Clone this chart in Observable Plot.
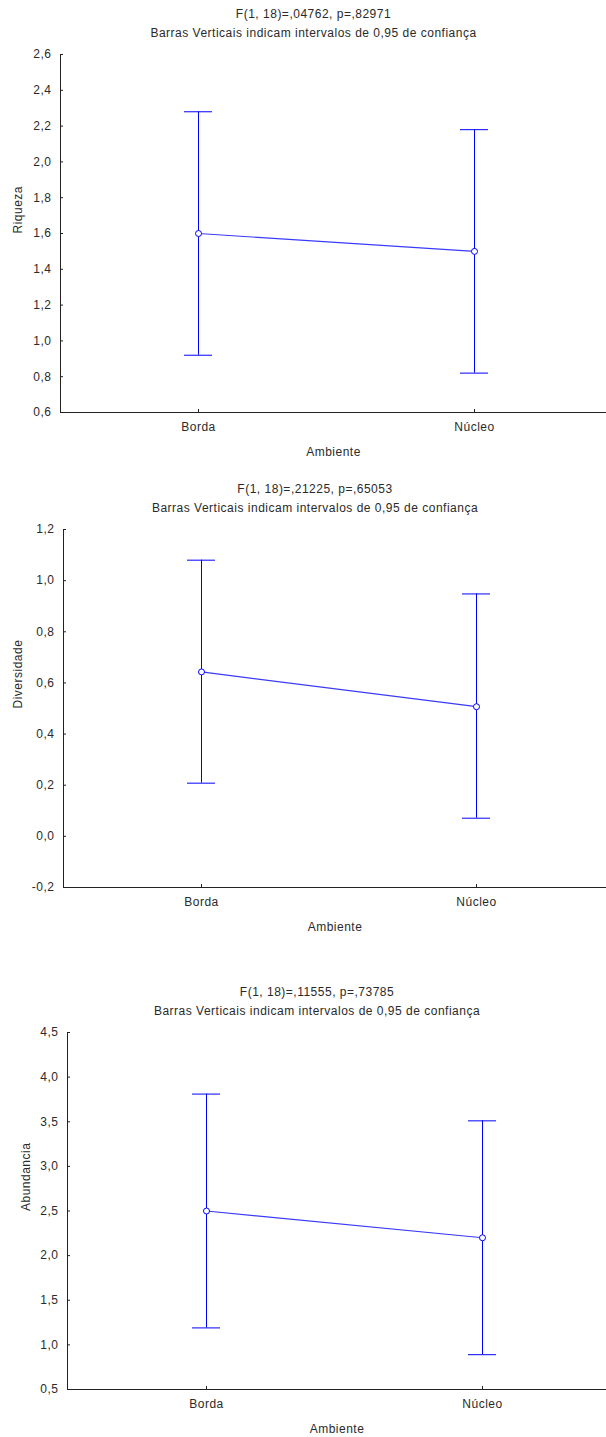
<!DOCTYPE html>
<html>
<head>
<meta charset="utf-8">
<script src="https://cdn.jsdelivr.net/npm/d3@7"></script>
<script src="https://cdn.jsdelivr.net/npm/@observablehq/plot@0.6"></script>
<style>
  html, body { margin: 0; padding: 0; background: #fff; }
  #charts svg { display: block; }
</style>
</head>
<body>
<div id="charts"></div>
<script>
// ---- Data ----
const categories = ["Borda", "Núcleo"];

const riquezaTitle = "F(1, 18)=,04762, p=,82971";
const riquezaMean = [1.60, 1.50];
const riquezaLow  = [0.92, 0.82];
const riquezaHigh = [2.28, 2.18];
const riquezaTicks = [0.6, 0.8, 1.0, 1.2, 1.4, 1.6, 1.8, 2.0, 2.2, 2.4, 2.6];

const diversidadeTitle = "F(1, 18)=,21225, p=,65053";
const diversidadeMean = [0.643, 0.507];
const diversidadeLow  = [0.208, 0.071];
const diversidadeHigh = [1.080, 0.948];
const diversidadeTicks = [-0.2, 0.0, 0.2, 0.4, 0.6, 0.8, 1.0, 1.2];

const abundanciaTitle = "F(1, 18)=,11555, p=,73785";
const abundanciaMean = [2.50, 2.20];
const abundanciaLow  = [1.19, 0.89];
const abundanciaHigh = [3.81, 3.51];
const abundanciaTicks = [0.5, 1.0, 1.5, 2.0, 2.5, 3.0, 3.5, 4.0, 4.5];

const subtitle = "Barras Verticais indicam intervalos de 0,95 de confiança";
const xLabel = "Ambiente";

// ---- Drawing ----
const FONT = "'Liberation Sans', Arial, sans-serif";
const BLUE = "#0000ff";
const INK = "#222";
const TXT = "#2a2a2a";
const fmt = d => d3.format(".1f")(d).replace(".", ",").replace("−", "-");

function panel({title, ylabel, ylabelDx, mean, low, high, ticks, marginLeft, xRange, height, marginBottom}) {
  const data = categories.map((c, i) => ({cat: c, mean: mean[i], low: low[i], high: high[i]}));
  return Plot.plot({
    width: 606,
    height,
    marginTop: 54,
    marginLeft,
    marginRight: 0,
    marginBottom,
    style: {fontFamily: FONT, fontSize: "12px", background: "#fff", color: INK, letterSpacing: "0.5px"},
    x: {type: "point", domain: categories, range: xRange, padding: 0.5},
    y: {domain: [ticks[0], ticks[ticks.length - 1]]},
    marks: [
      Plot.frame({anchor: "left", stroke: INK}),
      Plot.ruleY([ticks[0]], {stroke: INK}),
      Plot.axisY(ticks, {tickSize: 0, tickPadding: 9, tickFormat: fmt, label: null, fill: TXT, fontSize: 12}),
      Plot.axisY(ticks, {tickSize: 3, tickFormat: () => "", label: null, dx: 3, stroke: INK}),
      Plot.axisX({tickSize: 0, tickPadding: 10, label: null, fill: TXT, fontSize: 12}),
      Plot.axisX({tickSize: 3, tickFormat: () => "", label: null, dy: -3, stroke: INK}),
      Plot.ruleX(data, {x: "cat", y1: "low", y2: "high", stroke: BLUE, strokeWidth: 1}),
      Plot.ruleY(data, {x1: "cat", x2: "cat", y: "low", stroke: BLUE, insetLeft: -14, insetRight: -14}),
      Plot.ruleY(data, {x1: "cat", x2: "cat", y: "high", stroke: BLUE, insetLeft: -14, insetRight: -14}),
      Plot.line(data, {x: "cat", y: "mean", stroke: "#3a3aff", strokeWidth: 1.2}),
      Plot.dot(data, {x: "cat", y: "mean", r: 3, fill: "#fff", stroke: BLUE, strokeWidth: 1}),
      Plot.text([title], {frameAnchor: "top", lineAnchor: "middle", dx: -20, dy: -40, fill: TXT, fontSize: 12}),
      Plot.text([subtitle], {frameAnchor: "top", lineAnchor: "middle", dx: -20, dy: -21, fill: TXT, fontSize: 12}),
      Plot.text([ylabel], {frameAnchor: "left", lineAnchor: "middle", rotate: -90, dx: ylabelDx, fill: TXT, fontSize: 12}),
      Plot.text([xLabel], {frameAnchor: "bottom", lineAnchor: "middle", dy: 40, fill: TXT, fontSize: 12})
    ]
  });
}

const root = document.getElementById("charts");
root.append(panel({
  title: riquezaTitle, ylabel: "Riqueza", ylabelDx: -42,
  mean: riquezaMean, low: riquezaLow, high: riquezaHigh, ticks: riquezaTicks,
  marginLeft: 60, xRange: [60, 612], height: 475, marginBottom: 63
}));
root.append(panel({
  title: diversidadeTitle, ylabel: "Diversidade", ylabelDx: -45,
  mean: diversidadeMean, low: diversidadeLow, high: diversidadeHigh, ticks: diversidadeTicks,
  marginLeft: 63, xRange: [63, 613], height: 503, marginBottom: 91
}));
root.append(panel({
  title: abundanciaTitle, ylabel: "Abundancia", ylabelDx: -41,
  mean: abundanciaMean, low: abundanciaLow, high: abundanciaHigh, ticks: abundanciaTicks,
  marginLeft: 67, xRange: [67, 620], height: 459, marginBottom: 48
}));
</script>
</body>
</html>
